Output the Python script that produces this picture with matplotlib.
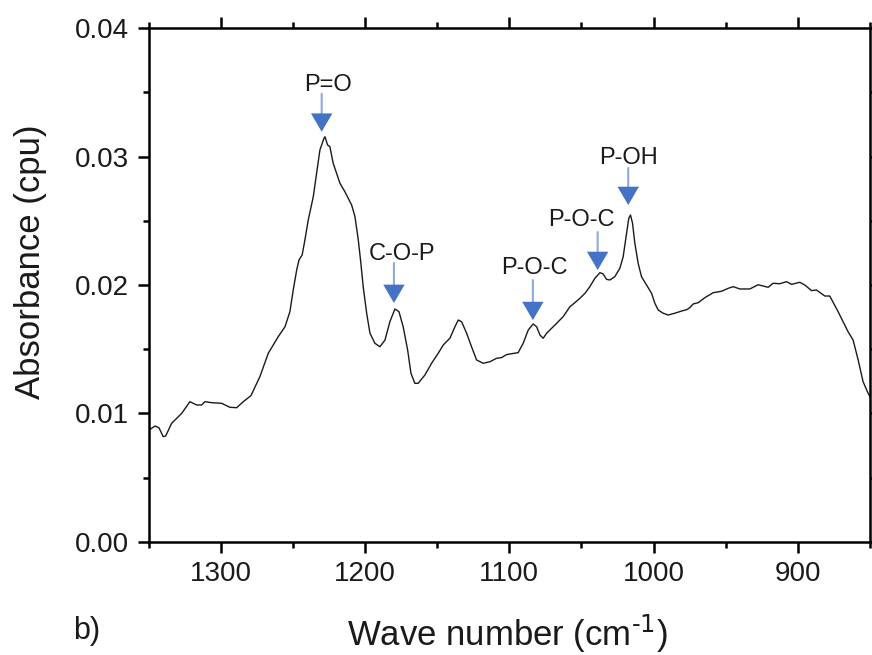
import matplotlib
matplotlib.use("Agg")
import matplotlib.pyplot as plt
from matplotlib.ticker import MultipleLocator
from matplotlib.transforms import offset_copy

plt.rcParams['font.family'] = ['Liberation Sans', 'DejaVu Sans']
plt.rcParams['mathtext.default'] = 'regular'

# ---- data ----
wavenumber = [1349.8, 1345.6, 1342.9, 1339.9, 1338.2, 1334.1, 1327.1, 1321.4, 1316.7, 1313.3,
              1311.0, 1306.3, 1299.4, 1293.7, 1289.0, 1284.4, 1279.1, 1272.9, 1267.1, 1260.2,
              1255.5, 1252.1, 1249.8, 1247.4, 1245.8, 1243.6, 1241.7, 1239.4, 1235.9, 1233.6,
              1231.3, 1228.5, 1227.8, 1226.0, 1224.4, 1222.1, 1217.4, 1214.0, 1209.3, 1207.0,
              1204.7, 1202.9, 1201.3, 1198.9, 1196.6, 1193.2, 1189.7, 1186.2, 1182.8, 1179.3,
              1176.5, 1173.6, 1170.5, 1168.2, 1165.5, 1163.2, 1158.5, 1153.9, 1149.3, 1145.8,
              1141.2, 1137.7, 1135.4, 1133.1, 1129.6, 1126.2, 1122.7, 1118.1, 1113.5, 1108.8,
              1105.4, 1101.9, 1093.9, 1090.4, 1086.9, 1083.5, 1081.1, 1078.8, 1076.5, 1074.2,
              1068.4, 1062.7, 1058.0, 1054.6, 1051.1, 1047.6, 1044.2, 1040.7, 1037.2, 1035.0,
              1032.6, 1030.3, 1026.9, 1023.4, 1021.1, 1018.7, 1017.2, 1016.0, 1014.6, 1013.0,
              1010.7, 1008.4, 1004.9, 1001.4, 999.1, 996.8, 993.4, 989.9, 985.3, 980.6,
              977.0, 974.9, 972.6, 969.1, 964.5, 958.7, 952.9, 948.3, 944.9, 940.2,
              933.3, 927.5, 920.6, 917.2, 912.5, 907.9, 904.4, 898.7, 895.2, 890.5,
              887.1, 881.3, 877.9, 872.1, 865.2, 861.7, 858.2, 854.8, 851.3, 850.0]
absorbance = [0.00870, 0.00901, 0.00888, 0.00818, 0.00824, 0.00922, 0.01000, 0.01091, 0.01065, 0.01065,
              0.01091, 0.01083, 0.01078, 0.01047, 0.01044, 0.01091, 0.01138, 0.01286, 0.01468, 0.01597,
              0.01675, 0.01792, 0.01961, 0.02117, 0.02195, 0.02234, 0.02351, 0.02506, 0.02688, 0.02870,
              0.03052, 0.03143, 0.03155, 0.03091, 0.03078, 0.02948, 0.02792, 0.02727, 0.02623, 0.02532,
              0.02351, 0.02169, 0.01987, 0.01780, 0.01624, 0.01546, 0.01519, 0.01571, 0.01714, 0.01813,
              0.01792, 0.01675, 0.01494, 0.01312, 0.01234, 0.01234, 0.01299, 0.01390, 0.01468, 0.01533,
              0.01585, 0.01675, 0.01727, 0.01714, 0.01624, 0.01519, 0.01416, 0.01390, 0.01402, 0.01429,
              0.01434, 0.01458, 0.01473, 0.01546, 0.01649, 0.01696, 0.01675, 0.01610, 0.01585, 0.01624,
              0.01688, 0.01753, 0.01831, 0.01862, 0.01896, 0.01935, 0.01987, 0.02052, 0.02096, 0.02086,
              0.02044, 0.02039, 0.02065, 0.02130, 0.02220, 0.02403, 0.02520, 0.02545, 0.02481, 0.02325,
              0.02169, 0.02065, 0.02000, 0.01935, 0.01857, 0.01805, 0.01780, 0.01766, 0.01780, 0.01797,
              0.01808, 0.01823, 0.01852, 0.01862, 0.01901, 0.01940, 0.01951, 0.01974, 0.01987, 0.01969,
              0.01969, 0.02002, 0.01982, 0.02013, 0.02010, 0.02026, 0.02005, 0.02021, 0.02000, 0.01956,
              0.01961, 0.01914, 0.01914, 0.01792, 0.01636, 0.01571, 0.01416, 0.01247, 0.01156, 0.01130]

ann_labels = ['P=O', 'C-O-P', 'P-O-C', 'P-O-C', 'P-OH']
ann_wn = [1228.0, 1179.3, 1082.3, 1036.0, 1016.2]
ann_abs = [0.03155, 0.01813, 0.01703, 0.02093, 0.02545]

x_ticks = [1300, 1200, 1100, 1000, 900]
y_ticks = [0.00, 0.01, 0.02, 0.03, 0.04]

# ---- styling / layout ----
# (arrow tip offset, arrow start offset, text centre offset) in pixels from the peak
ann_offsets = [((-3, 5), (-3, 43), (3, 52)),
               ((-1, 6), (-1, 46), (7, 55)),
               ((-2, 3), (-2, 43), (0, 55)),
               ((-4, 3), (-4, 41), (-20, 53)),
               ((-2, 10), (-2, 47), (-2, 57))]

fig = plt.figure(figsize=(8.72, 6.55), dpi=100)
ax = fig.add_axes([0.1705, 0.173, 0.8272, 0.7838])

ax.plot(wavenumber, absorbance, color='#1a1a1a', lw=1.0)

ax.set_xlim(1350, 850)
ax.set_ylim(0, 0.04)
ax.set_xticks(x_ticks)
ax.set_yticks(y_ticks)
ax.set_yticklabels([f'{v:.2f}' for v in y_ticks])
ax.xaxis.set_minor_locator(MultipleLocator(50))
ax.yaxis.set_minor_locator(MultipleLocator(0.005))

for s in ax.spines.values():
    s.set_linewidth(1.8)
ax.tick_params(which='both', direction='out', top=True, right=True, width=1.8,
               labelsize=20, pad=6, labelcolor='#1a1a1a')
ax.tick_params(which='major', length=8)
ax.tick_params(which='minor', length=4.5)

ax.set_xlabel('Wave number (cm$^{\\text{-1}}$)', fontsize=25, color='#1a1a1a')
ax.xaxis.set_label_coords(0.497, -0.137)
ax.set_ylabel('Absorbance (cpu)', fontsize=25, color='#1a1a1a')
ax.yaxis.set_label_coords(-0.141, 0.545)
fig.text(73 / 872, 1 - 631 / 655, 'b)', fontsize=22, va='center', ha='left', color='#1a1a1a')

for lab, wn, ab, (tip, start, txt) in zip(ann_labels, ann_wn, ann_abs, ann_offsets):
    tr_tip = offset_copy(ax.transData, fig=fig, x=tip[0], y=tip[1], units='dots')
    tr_start = offset_copy(ax.transData, fig=fig, x=start[0], y=start[1], units='dots')
    tr_txt = offset_copy(ax.transData, fig=fig, x=txt[0], y=txt[1], units='dots')
    # light shaft
    ax.annotate('', xy=(wn, ab), xycoords=tr_tip, xytext=(wn, ab), textcoords=tr_start,
                arrowprops=dict(arrowstyle='-', color='#8FAADC', lw=1.5,
                                shrinkA=0, shrinkB=6))
    # filled head
    ax.annotate('', xy=(wn, ab), xycoords=tr_tip, xytext=(wn, ab), textcoords=tr_start,
                arrowprops=dict(arrowstyle='-|>,head_length=0.6,head_width=0.35',
                                color='#4472C4', lw=0.0, mutation_scale=22,
                                shrinkA=0, shrinkB=0))
    ax.text(wn, ab, lab, transform=tr_txt, ha='center', va='center', fontsize=17,
            color='#1a1a1a')

fig.savefig('out.png', dpi=100)
